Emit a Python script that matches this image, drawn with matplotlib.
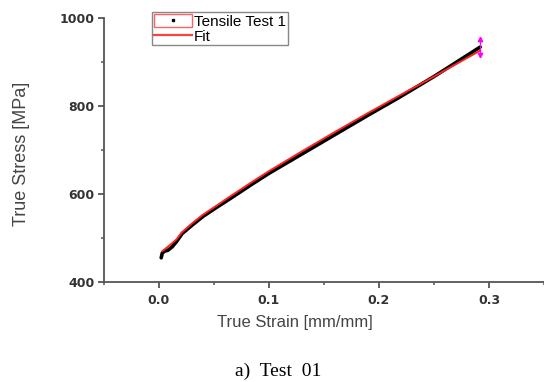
import matplotlib
matplotlib.use("Agg")
import matplotlib.pyplot as plt
from matplotlib.patches import Patch
from matplotlib.lines import Line2D
from matplotlib.legend_handler import HandlerTuple
from matplotlib.ticker import MultipleLocator

# Data
test_strain = [0.002, 0.003, 0.005, 0.008, 0.012, 0.016, 0.021, 0.030, 0.040, 0.052,
               0.065, 0.085, 0.100, 0.130, 0.160, 0.190, 0.218, 0.250, 0.292]
test_stress = [455, 466, 470, 472, 480, 492, 510, 529, 549, 569,
               590, 623, 647, 691, 735, 779, 819, 867, 934]

fit_strain = [0.003, 0.006, 0.010, 0.016, 0.021, 0.030, 0.040, 0.052, 0.065, 0.085,
              0.100, 0.130, 0.160, 0.190, 0.218, 0.250, 0.292]
fit_stress = [470, 476, 484, 497, 513, 533, 553, 573, 595, 628,
              652, 697, 741, 784, 823, 867, 926]

err_x = [0.292]
err_hi = [952]
err_lo = [916]

xticks = [0.0, 0.1, 0.2, 0.3]
yticks = [400, 600, 800, 1000]

fig = plt.figure(figsize=(5.44, 3.82), dpi=100)
ax = fig.add_axes([104/544, 1-282/382, 440/544, 264/382])

ax.plot(test_strain, test_stress, color="black", lw=2.6, solid_capstyle="round", zorder=2)
ax.plot(fit_strain, fit_stress, color="#ff2020", lw=1.4, zorder=3)
ax.vlines(err_x, err_lo, err_hi, color="magenta", lw=0.8, zorder=4)
ax.plot(err_x, err_hi, marker="^", color="magenta", ms=3.2, ls="none", zorder=4)
ax.plot(err_x, err_lo, marker="v", color="magenta", ms=3.2, ls="none", zorder=4)

ax.set_xlim(-0.05, 0.35)
ax.set_ylim(400, 1000)
ax.set_xticks(xticks)
ax.set_yticks(yticks)
ax.set_xticklabels([f"{v:.1f}" for v in xticks])
ax.xaxis.set_minor_locator(MultipleLocator(0.05))
ax.yaxis.set_minor_locator(MultipleLocator(100))

for s in ["top", "right"]:
    ax.spines[s].set_visible(False)
for s in ["left", "bottom"]:
    ax.spines[s].set_color("#555555")
    ax.spines[s].set_linewidth(1.3)

ax.tick_params(which="major", direction="out", length=4, width=1.3, color="#555555",
               labelsize=9, labelcolor="#333333")
ax.tick_params(axis="y", which="major", pad=3)
ax.tick_params(axis="x", which="major", pad=5)
ax.tick_params(which="minor", direction="out", length=2.5, width=1.1, color="#555555")
for lab in ax.get_xticklabels() + ax.get_yticklabels():
    lab.set_fontweight("bold")
    lab.set_family("DejaVu Sans")

ax.set_xlabel("True Strain [mm/mm]", fontsize=12, color="#444444",
              family="Liberation Sans")
ax.xaxis.set_label_coords((295 - 104) / 440, (282 - 322) / 264)
ax.xaxis.label.set_va("center")
ax.set_ylabel("True Stress [MPa]", fontsize=13, color="#444444",
              family="Liberation Sans")
ax.yaxis.set_label_coords((22 - 104) / 440, (282 - 154) / 264)
ax.yaxis.label.set_va("center")

h1 = (Patch(facecolor="white", edgecolor="#ff6060", lw=1.0),
      Line2D([], [], marker="s", ms=1.8, color="black", ls="none"))
h2 = Line2D([], [], color="#ff4040", lw=1.6)
leg = ax.legend([h1, h2], ["Tensile Test 1", "Fit"],
                handler_map={tuple: HandlerTuple(ndivide=1, pad=0)},
                loc="upper left", bbox_to_anchor=((152 - 104) / 440, (282 - 12) / 264),
                fancybox=False, framealpha=1, edgecolor="#888888",
                prop={"family": "Liberation Sans", "size": 11},
                handlelength=2.5, handleheight=1.0, handletextpad=0.15,
                borderpad=0.1, labelspacing=0.0, borderaxespad=0)
leg.get_frame().set_linewidth(1.0)

fig.text(278 / 544, 1 - 371 / 382, "a)  Test  01", ha="center", va="center",
         fontsize=14, family="Liberation Serif")

fig.savefig("out.png", dpi=100)
